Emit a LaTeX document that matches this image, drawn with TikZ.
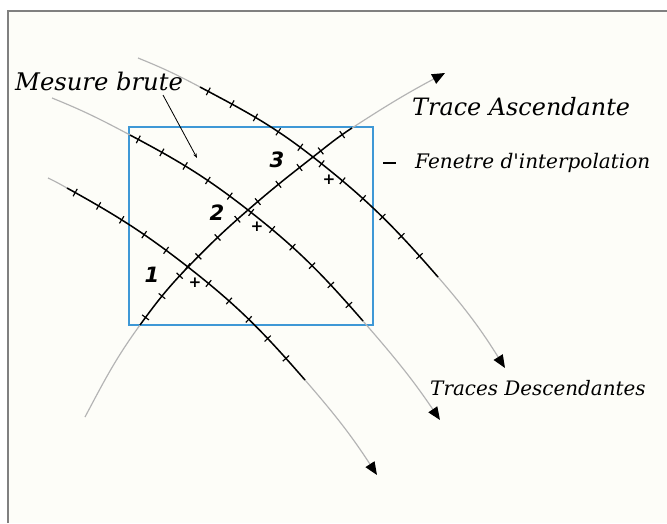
\documentclass[tikz,border=0pt]{standalone}
\usepackage{fontspec}
\usetikzlibrary{arrows.meta,decorations.markings}
\newfontfamily\lblfont{DejaVu Serif}
\newfontfamily\numfont{DejaVu Sans}
\definecolor{winblue}{RGB}{62,152,214}
\definecolor{paper}{RGB}{253,253,248}
\definecolor{faint}{RGB}{180,180,180}

\begin{document}
\begin{tikzpicture}[x=0.03cm,y=-0.03cm,
  faded/.style={faint,line width=1pt},
  sampled/.style={black,line width=1.3pt,postaction={decorate},
    decoration={markings,mark=between positions 8pt and -4pt step 23pt with
      {\draw[line width=1pt] (0,-3.6pt) -- (0,3.6pt);}}},
  tipped/.style={-{Triangle[length=11pt,width=9pt,color=black]}},
  lbl/.style={font=\lblfont\itshape,anchor=base west,inner sep=0pt},
  num/.style={font=\numfont\bfseries\itshape\fontsize{18}{18}\selectfont,inner sep=0pt}]
 \useasboundingbox (0,0) rectangle (667,523);
 \fill[white] (0,0) rectangle (667,523);
 \fill[paper] (8,11) rectangle (667,523);
 \draw[black!50,line width=1.4pt] (8,523) -- (8,11) -- (667,11);
 \draw[winblue,line width=1.3pt] (129,127) rectangle (373,325);

 \coordinate (A0) at (48,178);  \coordinate (A1) at (67,188);
 \coordinate (A2) at (305,380); \coordinate (A3) at (377,475);
 \coordinate (B0) at (52,98);   \coordinate (B1) at (130,135);
 \coordinate (B2) at (363,321); \coordinate (B3) at (440,420);
 \coordinate (C0) at (138,58);  \coordinate (C1) at (200,87);
 \coordinate (C2) at (438,277); \coordinate (C3) at (505,368);
 \coordinate (D0) at (85,417);  \coordinate (D1) at (140,325);
 \coordinate (D2) at (352,128); \coordinate (D3) at (445,73);
 \coordinate (X1) at (188,267); \coordinate (X2) at (248,210);
 \coordinate (X3) at (313,157);

 \draw[faded] (A0) to[out=-25,in=151] (A1);
 \draw[faded,tipped] (A2) to[out=-49,in=123] (A3);
 \draw[sampled] (A1) to[out=-29,in=142] (X1) to[out=-38,in=131] (A2);
 \draw[faded] (B0) to[out=-22,in=152] (B1);
 \draw[faded,tipped] (B2) to[out=-49,in=124] (B3);
 \draw[sampled] (B1) to[out=-28,in=142] (X2) to[out=-38,in=131] (B2);
 \draw[faded] (C0) to[out=-22,in=152] (C1);
 \draw[faded,tipped] (C2) to[out=-49,in=122] (C3);
 \draw[sampled] (C1) to[out=-28,in=142] (X3) to[out=-38,in=131] (C2);
 \draw[faded] (D0) to[out=62,in=-126] (D1);
 \draw[faded,tipped] (D2) to[out=33,in=-152] (D3);
 \draw[sampled] (D1) to[out=54,in=-134] (X1) to[out=46,in=-139] (X2)
   to[out=41,in=-142] (X3) to[out=38,in=-147] (D2);

 \foreach \n/\x/\y in {p1/195/283,p2/257/227,p3/329/180}
  \node[font=\numfont\bfseries\fontsize{13}{13}\selectfont,inner sep=0pt] (\n) at (\x,\y) {+};
 \node[num] (n1) at (152,275) {1};
 \node[num] (n2) at (217,213) {2};
 \node[num] (n3) at (277,160) {3};

 \node[lbl,font=\lblfont\itshape\fontsize{20.7}{21}\selectfont] (mesure) at (15,90) {Mesure brute};
 \coordinate (mbfoot) at (163,95); \coordinate (mbtip) at (197,158);
 \draw[line width=0.7pt,-{Stealth[length=4pt,width=3pt]}] (mbfoot) -- (mbtip);
 \node[lbl,font=\lblfont\itshape\fontsize{20.4}{21}\selectfont] (ascend) at (412,115) {Trace Ascendante};
 \node[lbl,font=\lblfont\itshape\fontsize{17.1}{17}\selectfont] (fenetre) at (415,168) {Fenetre d'interpolation};
 \coordinate (fena) at (383,163); \coordinate (fenb) at (396,163);
 \draw[line width=1.3pt] (fena) -- (fenb);
 \node[lbl,font=\lblfont\itshape\fontsize{17}{17}\selectfont] (descend) at (430,395) {Traces Descendantes};
\end{tikzpicture}
\end{document}
